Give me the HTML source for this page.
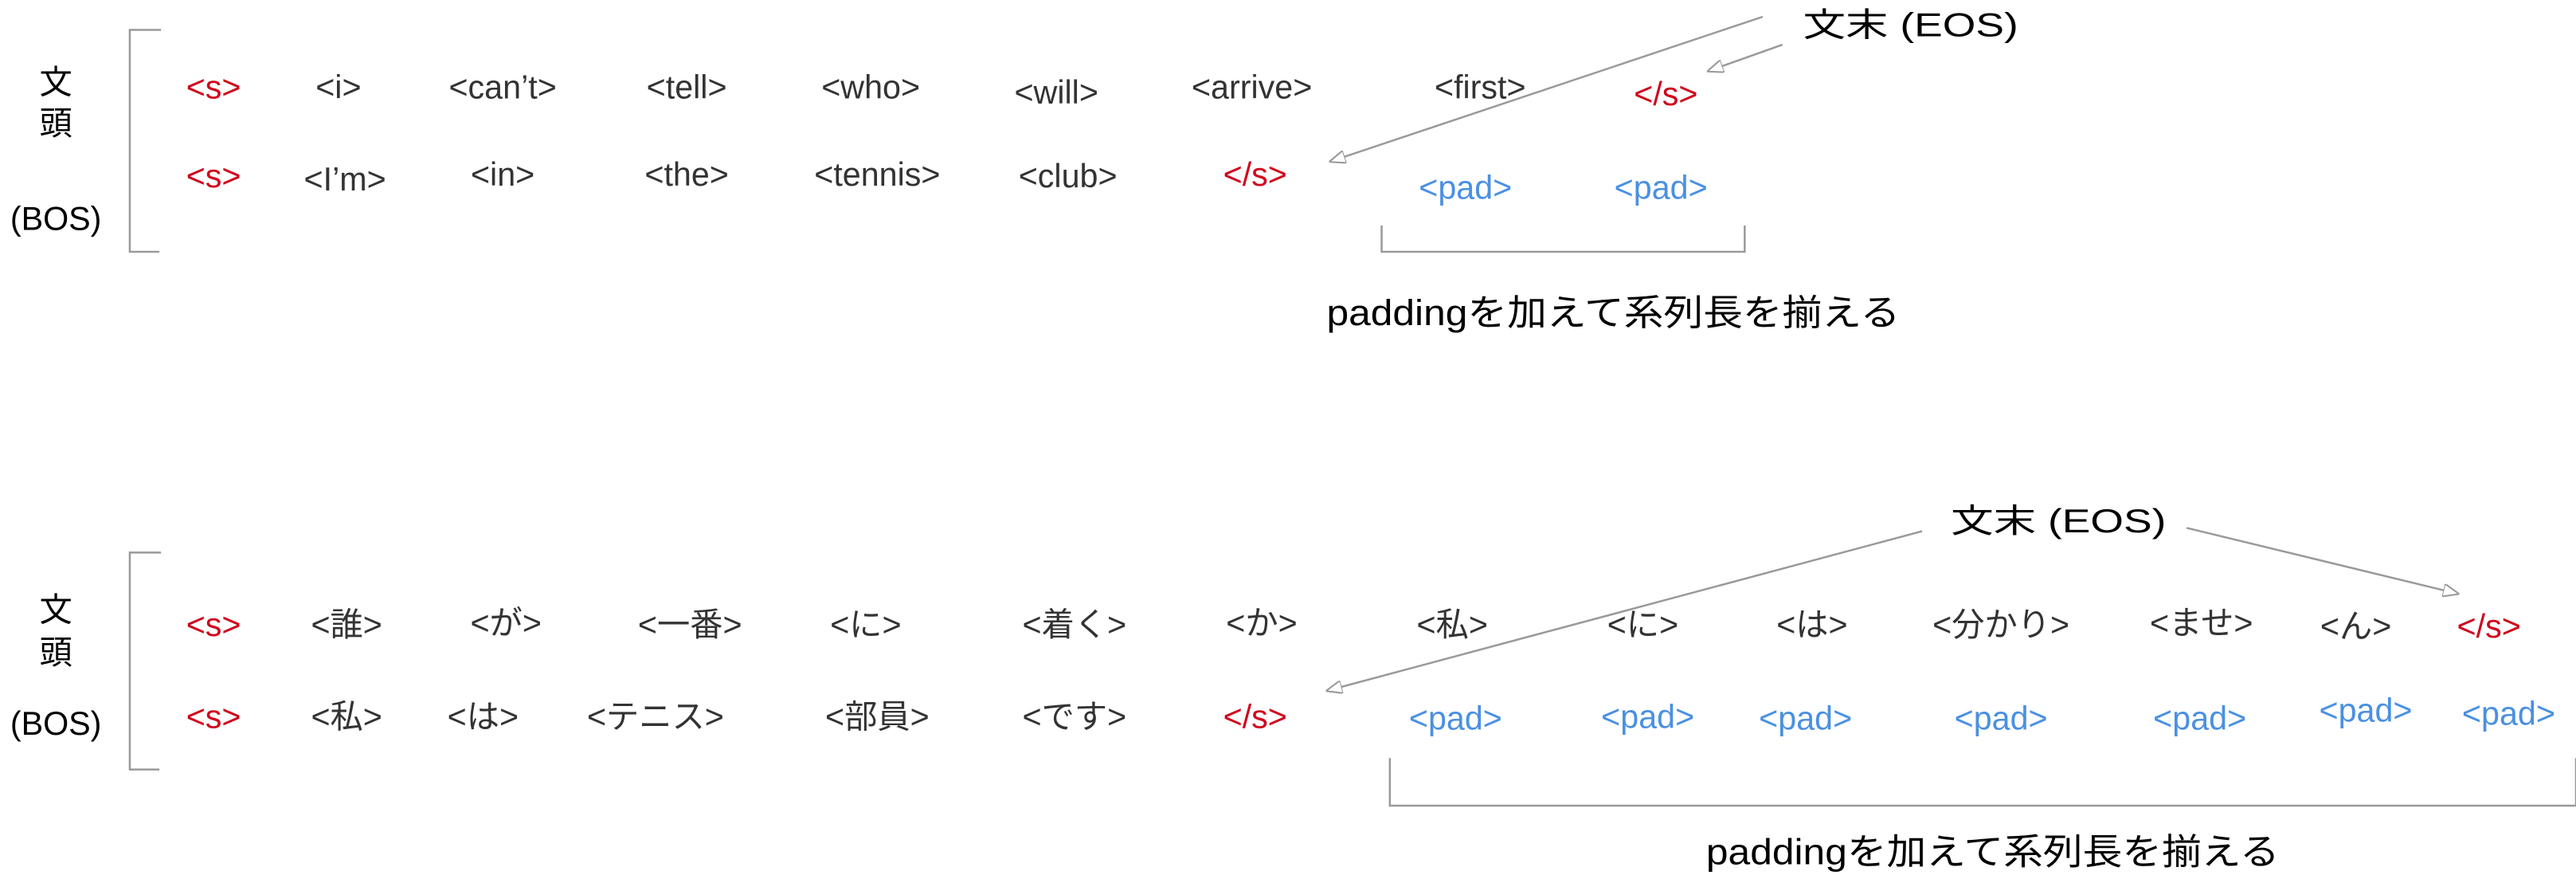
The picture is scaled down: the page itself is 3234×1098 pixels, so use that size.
<!DOCTYPE html>
<html><head><meta charset="utf-8"><style>
html,body{margin:0;padding:0;background:#fff;width:3234px;height:1098px;overflow:hidden}
svg{display:block}
text{font-family:"Liberation Sans","Noto Sans CJK JP",sans-serif;font-size:20px;text-anchor:middle;dominant-baseline:central;fill:#333;white-space:pre}
.r{fill:#d0021b}.b{fill:#4a90e2}.k{fill:#000}
.L{font-size:22px}
</style></head><body>
<svg width="3234" height="1098" viewBox="0 0 1568 532" xmlns="http://www.w3.org/2000/svg">
<defs><marker id="a" markerWidth="10" markerHeight="8" refX="9" refY="4" orient="auto" markerUnits="userSpaceOnUse"><path d="M0,0 L10,4 L0,8 Z" fill="#fff" stroke="#999" stroke-width="1"/></marker></defs>
<g stroke="#999" stroke-width="1.2" fill="none">
<path d="M98,18 H79 V153 H97"/>
<path d="M841,137 V153 H1062 V137"/>
<path d="M98,336 H79 V468 H97"/>
<path d="M846,461 V490 H1568 V461"/>
<line x1="1073" y1="10" x2="810" y2="98" marker-end="url(#a)"/>
<line x1="1085" y1="27" x2="1040" y2="43" marker-end="url(#a)"/>
<line x1="1170" y1="323" x2="808" y2="420" marker-end="url(#a)"/>
<line x1="1331" y1="321" x2="1496" y2="361" marker-end="url(#a)"/>
</g>
<text class="k" x="34" y="50">文</text><text class="k" x="34" y="75">頭</text><text class="k" x="34" y="133">(BOS)</text>
<text class="r" x="130" y="53">&lt;s&gt;</text><text x="206" y="53">&lt;i&gt;</text><text x="306" y="53">&lt;can’t&gt;</text><text x="418" y="53">&lt;tell&gt;</text><text x="530" y="53">&lt;who&gt;</text><text x="643" y="56">&lt;will&gt;</text><text x="762" y="53">&lt;arrive&gt;</text><text x="901" y="53">&lt;first&gt;</text><text class="r" x="1014" y="57">&lt;/s&gt;</text>
<text class="r" x="130" y="107">&lt;s&gt;</text><text x="210" y="109">&lt;I’m&gt;</text><text x="306" y="106">&lt;in&gt;</text><text x="418" y="106">&lt;the&gt;</text><text x="534" y="106">&lt;tennis&gt;</text><text x="650" y="107">&lt;club&gt;</text><text class="r" x="764" y="106">&lt;/s&gt;</text><text class="b" x="892" y="114">&lt;pad&gt;</text><text class="b" x="1011" y="114">&lt;pad&gt;</text>
<text class="k L" x="982" y="190" textLength="349" lengthAdjust="spacingAndGlyphs">paddingを加えて系列長を揃える</text>
<text class="k" x="1163" y="15" textLength="131" lengthAdjust="spacingAndGlyphs">文末 (EOS)</text>
<text class="k" x="34" y="371">文</text><text class="k" x="34" y="397">頭</text><text class="k" x="34" y="440">(BOS)</text>
<text class="r" x="130" y="380">&lt;s&gt;</text><text x="211" y="380">&lt;誰&gt;</text><text x="308" y="379">&lt;が&gt;</text><text x="420" y="380">&lt;一番&gt;</text><text x="527" y="380">&lt;に&gt;</text><text x="654" y="380">&lt;着く&gt;</text><text x="768" y="379">&lt;か&gt;</text><text x="884" y="380">&lt;私&gt;</text><text x="1000" y="380">&lt;に&gt;</text><text x="1103" y="380">&lt;は&gt;</text><text x="1218" y="380">&lt;分かり&gt;</text><text x="1340" y="379">&lt;ませ&gt;</text><text x="1434" y="381">&lt;ん&gt;</text><text class="r" x="1515" y="381">&lt;/s&gt;</text>
<text class="r" x="130" y="436">&lt;s&gt;</text><text x="211" y="436">&lt;私&gt;</text><text x="294" y="436">&lt;は&gt;</text><text x="399" y="436">&lt;テニス&gt;</text><text x="534" y="436">&lt;部員&gt;</text><text x="654" y="436">&lt;です&gt;</text><text class="r" x="764" y="436">&lt;/s&gt;</text>
<text class="b" x="886" y="437">&lt;pad&gt;</text><text class="b" x="1003" y="436">&lt;pad&gt;</text><text class="b" x="1099" y="437">&lt;pad&gt;</text><text class="b" x="1218" y="437">&lt;pad&gt;</text><text class="b" x="1339" y="437">&lt;pad&gt;</text><text class="b" x="1440" y="432">&lt;pad&gt;</text><text class="b" x="1527" y="434">&lt;pad&gt;</text>
<text class="k L" x="1213" y="518" textLength="349" lengthAdjust="spacingAndGlyphs">paddingを加えて系列長を揃える</text>
<text class="k" x="1253" y="317" textLength="131" lengthAdjust="spacingAndGlyphs">文末 (EOS)</text>
</svg>
</body></html>
